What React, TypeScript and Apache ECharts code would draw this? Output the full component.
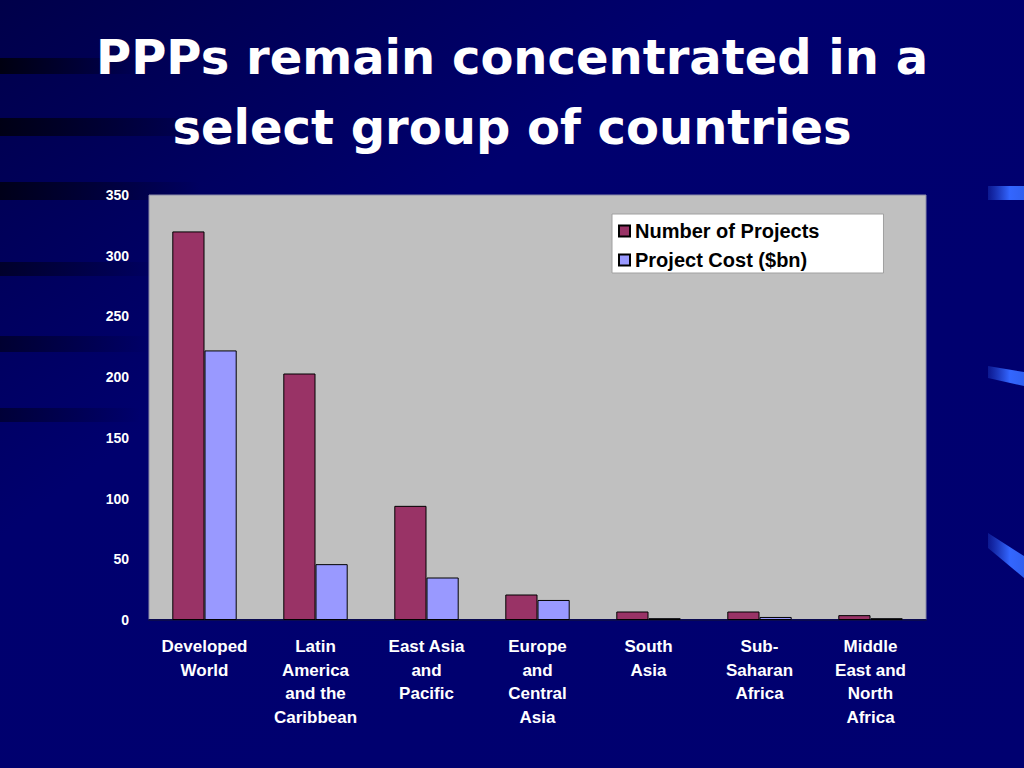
import React, { useEffect, useRef } from "react";
import * as echarts from "echarts";

const categories = [
  "Developed\nWorld",
  "Latin\nAmerica\nand the\nCaribbean",
  "East Asia\nand\nPacific",
  "Europe\nand\nCentral\nAsia",
  "South\nAsia",
  "Sub-\nSaharan\nAfrica",
  "Middle\nEast and\nNorth\nAfrica",
];
const numberOfProjects = [320, 203, 94, 21, 7, 7, 4];
const projectCost = [222, 46, 35, 16.5, 1.5, 2.5, 1.5];
const seriesNames = ["Number of Projects", "Project Cost ($bn)"];
const titleLines = ["PPPs remain concentrated in a", "select group of countries"];

export default function App() {
  const ref = useRef<HTMLDivElement>(null);
  useEffect(() => {
    if (!ref.current) return;
    const chart = echarts.init(ref.current, null, { renderer: "svg" });
    const streak = (y: number, h: number, w: number, op: number) => ({
      type: "rect",
      z: -10,
      shape: { x: 0, y, width: w, height: h },
      style: {
        fill: new echarts.graphic.LinearGradient(0, 0, 1, 0, [
          { offset: 0, color: `rgba(0,0,10,${op})` },
          { offset: 1, color: "rgba(0,0,10,0)" },
        ]),
      },
      silent: true,
    });
    const mark = (pts: number[][]) => ({
      type: "polygon",
      z: -5,
      shape: { points: pts },
      style: {
        fill: new echarts.graphic.LinearGradient(0, 0, 1, 0, [
          { offset: 0, color: "rgba(40,80,220,0.3)" },
          { offset: 0.6, color: "#3366ff" },
          { offset: 1, color: "#3060f0" },
        ]),
      },
      silent: true,
    });
    chart.setOption({
      animation: false,
      backgroundColor: new echarts.graphic.LinearGradient(0, 0, 1, 1, [
        { offset: 0, color: "#00004a" },
        { offset: 0.35, color: "#00006e" },
        { offset: 1, color: "#000070" },
      ]),
      graphic: [
        streak(58, 16, 140, 0.9),
        streak(118, 18, 220, 0.85),
        streak(182, 18, 200, 0.8),
        streak(262, 14, 160, 0.6),
        streak(336, 16, 150, 0.55),
        streak(408, 14, 140, 0.5),
        mark([[988, 186], [1024, 186], [1024, 200], [988, 200]]),
        mark([[988, 366], [1024, 372], [1024, 386], [988, 378]]),
        mark([[988, 533], [1024, 556], [1024, 578], [988, 548]]),
        {
          type: "text",
          left: "center",
          top: 22,
          style: {
            text: titleLines.join("\n"),
            fill: "#ffffff",
            font: 'bold 48px "Comic Sans MS", "DejaVu Sans", sans-serif',
            textAlign: "center",
            lineHeight: 70,
          },
        },
      ],
      grid: {
        left: 149,
        right: 98,
        top: 195,
        bottom: 148,
        show: true,
        backgroundColor: "#c0c0c0",
        borderColor: "#8a8aa8",
        borderWidth: 1,
      },
      legend: {
        orient: "vertical",
        left: 612,
        top: 214,
        backgroundColor: "#ffffff",
        borderColor: "#a0a0a0",
        borderWidth: 1,
        padding: [7, 64, 3, 6],
        itemGap: 9,
        itemWidth: 11,
        itemHeight: 11,
        icon: "rect",
        textStyle: {
          color: "#000000",
          fontSize: 20,
          fontWeight: "bold",
          fontFamily: '"Liberation Sans", Arial, sans-serif',
        },
        data: seriesNames,
      },
      xAxis: {
        type: "category",
        data: categories,
        axisLine: { show: true, lineStyle: { color: "#0a0a50", width: 2 } },
        axisTick: { show: false },
        axisLabel: {
          color: "#ffffff",
          fontSize: 17,
          fontWeight: "bold",
          fontFamily: '"Liberation Sans", Arial, sans-serif',
          lineHeight: 23.5,
          margin: 15,
          interval: 0,
          verticalAlign: "top",
        },
      },
      yAxis: {
        type: "value",
        min: 0,
        max: 350,
        interval: 50,
        splitLine: { show: false },
        axisLine: { show: false },
        axisTick: { show: false },
        axisLabel: {
          color: "#ffffff",
          fontSize: 14,
          fontWeight: "bold",
          fontFamily: '"Liberation Sans", Arial, sans-serif',
          margin: 20,
        },
      },
      series: [
        {
          name: seriesNames[0],
          type: "bar",
          data: numberOfProjects,
          barGap: "0%",
          barCategoryGap: "42%",
          itemStyle: { color: "#993366", borderColor: "#000000", borderWidth: 1 },
        },
        {
          name: seriesNames[1],
          type: "bar",
          data: projectCost,
          itemStyle: { color: "#9999ff", borderColor: "#000000", borderWidth: 1 },
        },
      ],
    });
    return () => chart.dispose();
  }, []);
  return (
    <div
      ref={ref}
      style={{ position: "fixed", left: 0, top: 0, width: 1024, height: 768 }}
    />
  );
}
